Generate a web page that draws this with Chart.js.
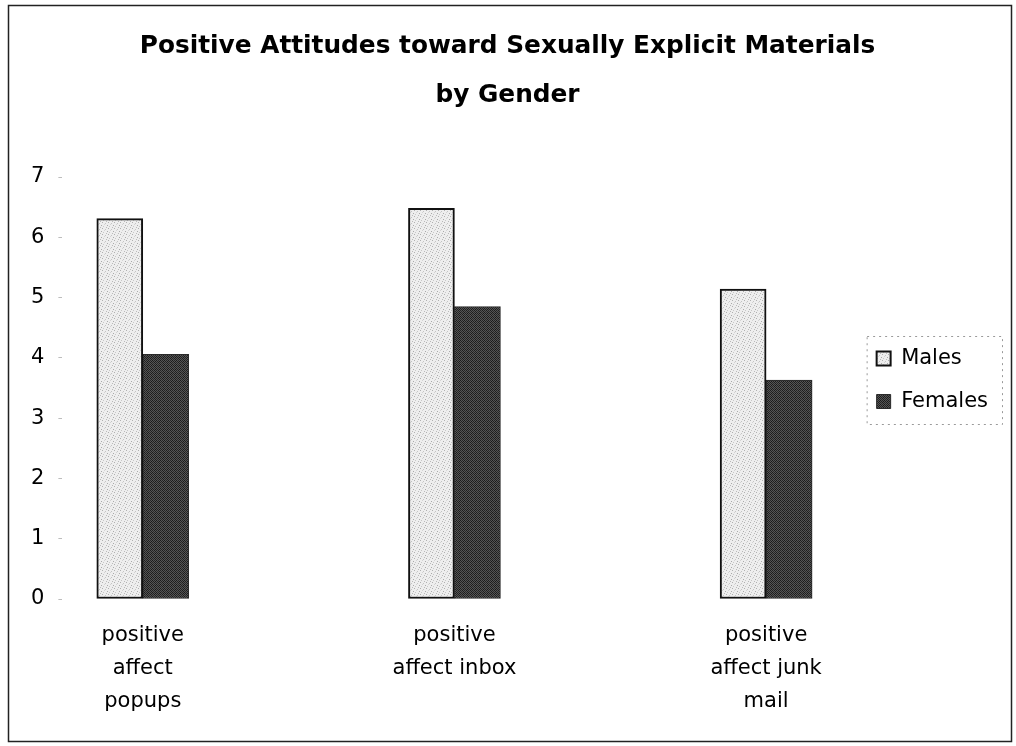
<!DOCTYPE html>
<html>
<head>
<meta charset="utf-8">
<title>Positive Attitudes toward Sexually Explicit Materials by Gender</title>
<script src="https://cdn.jsdelivr.net/npm/chart.js@4.4.1/dist/chart.umd.min.js"></script>
<style>
  html, body { margin: 0; padding: 0; background: #fff; }
  canvas { display: block; }
</style>
</head>
<body>
<canvas id="chart" width="1016" height="746"></canvas>
<script>
// Categories (multi-line tick labels) and mean scores per gender
const categories = [
  ["positive", "affect", "popups"],
  ["positive", "affect inbox"],
  ["positive", "affect junk", "mail"]
];
const seriesNames = ["Males", "Females"];
const males = [6.31, 6.48, 5.14];
const females = [4.06, 4.85, 3.63];
const yTicks = [0, 1, 2, 3, 4, 5, 6, 7];
const titleLines = ["Positive Attitudes toward Sexually Explicit Materials", "by Gender"];

// Halftone-like fills for the two series
function makePattern(base, dots, size) {
  const c = document.createElement('canvas');
  c.width = size; c.height = size;
  const g = c.getContext('2d');
  g.fillStyle = base;
  g.fillRect(0, 0, size, size);
  dots.forEach(([x, y, col]) => { g.fillStyle = col; g.fillRect(x, y, 1, 1); });
  return g.createPattern(c, 'repeat');
}
const ctx = document.getElementById('chart').getContext('2d');
const maleFill = makePattern('#eeeeee', [
  [0, 0, '#b0b0b0'], [3, 1, '#c4c4c4'], [5, 3, '#aaaaaa'], [1, 4, '#c8c8c8'], [4, 5, '#bababa'], [2, 2, '#d4d4d4']
], 6);
const femaleFill = makePattern('#555555', [
  [0, 0, '#1a1a1a'], [2, 0, '#262626'], [1, 1, '#202020'], [3, 1, '#181818'],
  [0, 2, '#242424'], [2, 2, '#1c1c1c'], [1, 3, '#2a2a2a'], [3, 3, '#1e1e1e']
], 4);

const toPoints = arr => arr.map((v, i) => ({ x: i, y: v }));

// Outer frame and dotted legend border
const framePlugin = {
  id: 'frame',
  afterDraw(chart) {
    const c = chart.ctx;
    c.save();
    c.strokeStyle = '#222';
    c.lineWidth = 1.5;
    c.strokeRect(8.5, 5.5, 1003, 736);
    const lg = chart.legend;
    if (lg && lg.legendHitBoxes && lg.legendHitBoxes.length) {
      const hb = lg.legendHitBoxes;
      const left = Math.min(...hb.map(h => h.left)) - 10;
      const top = Math.min(...hb.map(h => h.top)) - 12;
      const bottom = Math.max(...hb.map(h => h.top + h.height)) + 12;
      const right = Math.max(...hb.map(h => h.left + h.width)) + 14;
      c.strokeStyle = '#9a9a9a';
      c.lineWidth = 1;
      c.setLineDash([2, 4]);
      c.strokeRect(left + 0.5, top + 0.5, right - left, bottom - top);
    }
    c.restore();
  }
};

Chart.defaults.color = '#000';
Chart.defaults.font.family = "'DejaVu Sans', sans-serif";

new Chart(ctx, {
  type: 'bar',
  data: {
    datasets: [
      {
        label: seriesNames[0],
        data: toPoints(males),
        backgroundColor: maleFill,
        borderColor: '#111',
        borderWidth: 2,
        borderSkipped: false
      },
      {
        label: seriesNames[1],
        data: toPoints(females),
        backgroundColor: femaleFill,
        borderColor: '#2a2a2a',
        borderWidth: 1,
        borderSkipped: false
      }
    ]
  },
  options: {
    responsive: false,
    animation: false,
    events: [],
    layout: { padding: { top: 22, left: 17, right: 18, bottom: 16 } },
    datasets: { bar: { barThickness: 46 } },
    scales: {
      x: {
        type: 'linear',
        offset: false,
        min: -0.258,
        max: 2.284,
        afterBuildTicks(scale) {
          scale.ticks = categories.map((_, i) => ({ value: i }));
        },
        ticks: {
          autoSkip: false,
          maxRotation: 0,
          padding: 12,
          font: { size: 21, lineHeight: 1.571 },
          color: '#000',
          callback: v => categories[v]
        },
        grid: { display: false },
        border: { display: false }
      },
      y: {
        min: 0,
        max: 7,
        afterBuildTicks(scale) {
          scale.ticks = yTicks.map(v => ({ value: v }));
        },
        ticks: {
          padding: 14,
          font: { size: 21 },
          color: '#000'
        },
        grid: { drawOnChartArea: false, drawTicks: true, tickLength: 4, color: '#bdbdbd' },
        border: { display: false }
      }
    },
    plugins: {
      title: {
        display: true,
        text: titleLines,
        color: '#000',
        font: { size: 24.8, weight: 'bold', lineHeight: 1.984 },
        padding: { top: 0, bottom: 56.6 }
      },
      legend: {
        position: 'right',
        align: 'center',
        title: { display: true, text: '', font: { size: 1, lineHeight: 1 }, padding: { top: 7, bottom: 0 } },
        labels: {
          boxWidth: 14,
          boxHeight: 14,
          padding: 22,
          color: '#000',
          font: { size: 21 }
        }
      },
      tooltip: { enabled: false }
    }
  },
  plugins: [framePlugin]
});
</script>
</body>
</html>
